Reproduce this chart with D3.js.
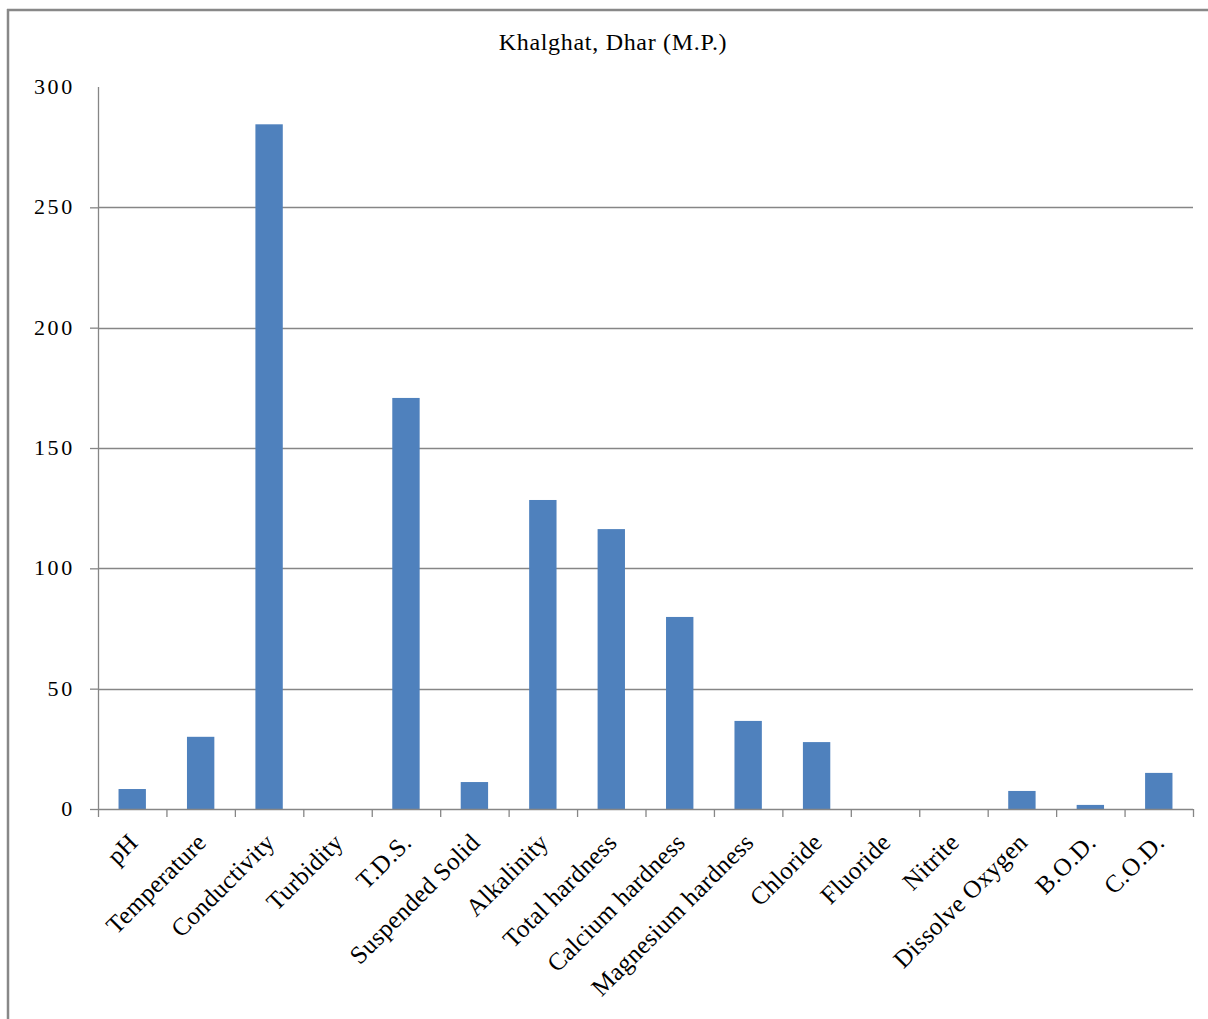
<!DOCTYPE html>
<html>
<head>
<meta charset="utf-8">
<script src="https://cdn.jsdelivr.net/npm/d3@7"></script>
<style>
  html, body { margin: 0; padding: 0; background: #fff; }
  svg { display: block; }
  text { font-family: "Liberation Serif", "Times New Roman", serif; fill: #000; }
</style>
</head>
<body>
<svg id="chart" width="1208" height="1019"></svg>
<script>
const titleText = "Khalghat, Dhar (M.P.)";
const categories = ["pH", "Temperature", "Conductivity", "Turbidity", "T.D.S.", "Suspended Solid",
  "Alkalinity", "Total hardness", "Calcium hardness", "Magnesium hardness", "Chloride",
  "Fluoride", "Nitrite", "Dissolve Oxygen", "B.O.D.", "C.O.D."];
const values = [8.3, 30, 284.5, 0, 170.8, 11.2, 128.4, 116.3, 79.8, 36.6, 27.8, 0, 0, 7.5, 1.7, 15];
const yTicks = [0, 50, 100, 150, 200, 250, 300];
const gridTicks = [50, 100, 150, 200, 250];

const svg = d3.select("#chart");
const plot = { left: 98, right: 1193, top: 87, bottom: 809 };

// frame
svg.append("line").attr("x1", 8).attr("x2", 8).attr("y1", 9).attr("y2", 1019)
  .attr("stroke", "#888").attr("stroke-width", 2.5);
svg.append("line").attr("x1", 7).attr("x2", 1208).attr("y1", 10).attr("y2", 10)
  .attr("stroke", "#888").attr("stroke-width", 2.5);

const x = d3.scaleBand().domain(categories).range([plot.left, plot.right]).padding(0);
const y = d3.scaleLinear().domain([0, 300]).range([plot.bottom, plot.top]);

// title
svg.append("text").attr("x", 613).attr("y", 50).attr("text-anchor", "middle")
  .style("font-size", "24px").style("letter-spacing", "0.7px").text(titleText);

// gridlines
svg.append("g").selectAll("line").data(gridTicks).join("line")
  .attr("x1", plot.left).attr("x2", plot.right)
  .attr("y1", d => Math.round(y(d)) + 0.5).attr("y2", d => Math.round(y(d)) + 0.5)
  .attr("stroke", "#868686").attr("stroke-width", 1.3);

// bars
const bw = x.bandwidth() * 0.4;
svg.append("g").selectAll("rect").data(values).join("rect")
  .attr("x", (d, i) => x(categories[i]) + (x.bandwidth() - bw) / 2)
  .attr("width", bw)
  .attr("y", d => y(d))
  .attr("height", d => y(0) - y(d))
  .attr("fill", "#4f81bd");

// y axis
const yAxis = d3.axisLeft(y).tickValues(yTicks).tickSize(8).tickPadding(15);
const gy = svg.append("g").attr("transform", `translate(${plot.left},0)`).call(yAxis);
gy.select(".domain").attr("stroke", "#868686").attr("stroke-width", 1.3).attr("d", `M0.5,${plot.top}V${plot.bottom}`);
gy.selectAll(".tick line").attr("stroke", "#868686").attr("stroke-width", 1.3);
gy.selectAll(".tick").filter(d => d === 300).select("line").remove();
gy.selectAll(".tick text").style("font-size", "22px").style("letter-spacing", "2.7px")
  .style("font-family", "'Liberation Serif', serif").attr("dy", "0.3em");

// x axis
const xAxis = d3.axisBottom(x).tickSize(0).tickFormat("");
const gx = svg.append("g").attr("transform", `translate(0,${plot.bottom})`).call(xAxis);
gx.select(".domain").attr("stroke", "#868686").attr("stroke-width", 1.3).attr("d", `M${plot.left},0.5H${plot.right}`);
gx.selectAll(".tick").remove();
const boundaries = categories.map(c => x(c)).concat([plot.right]);
gx.selectAll("line.sep").data(boundaries).join("line").attr("class", "sep")
  .attr("x1", d => d + 0.5).attr("x2", d => d + 0.5).attr("y1", 0).attr("y2", 8)
  .attr("stroke", "#868686").attr("stroke-width", 1.3);

// category labels
svg.append("g").selectAll("text").data(categories).join("text")
  .attr("transform", d => `translate(${x(d) + x.bandwidth() / 2 + 7},844) rotate(-45)`)
  .attr("text-anchor", "end")
  .style("font-size", "25px").style("letter-spacing", "0.3px")
  .text(d => d);
</script>
</body>
</html>
